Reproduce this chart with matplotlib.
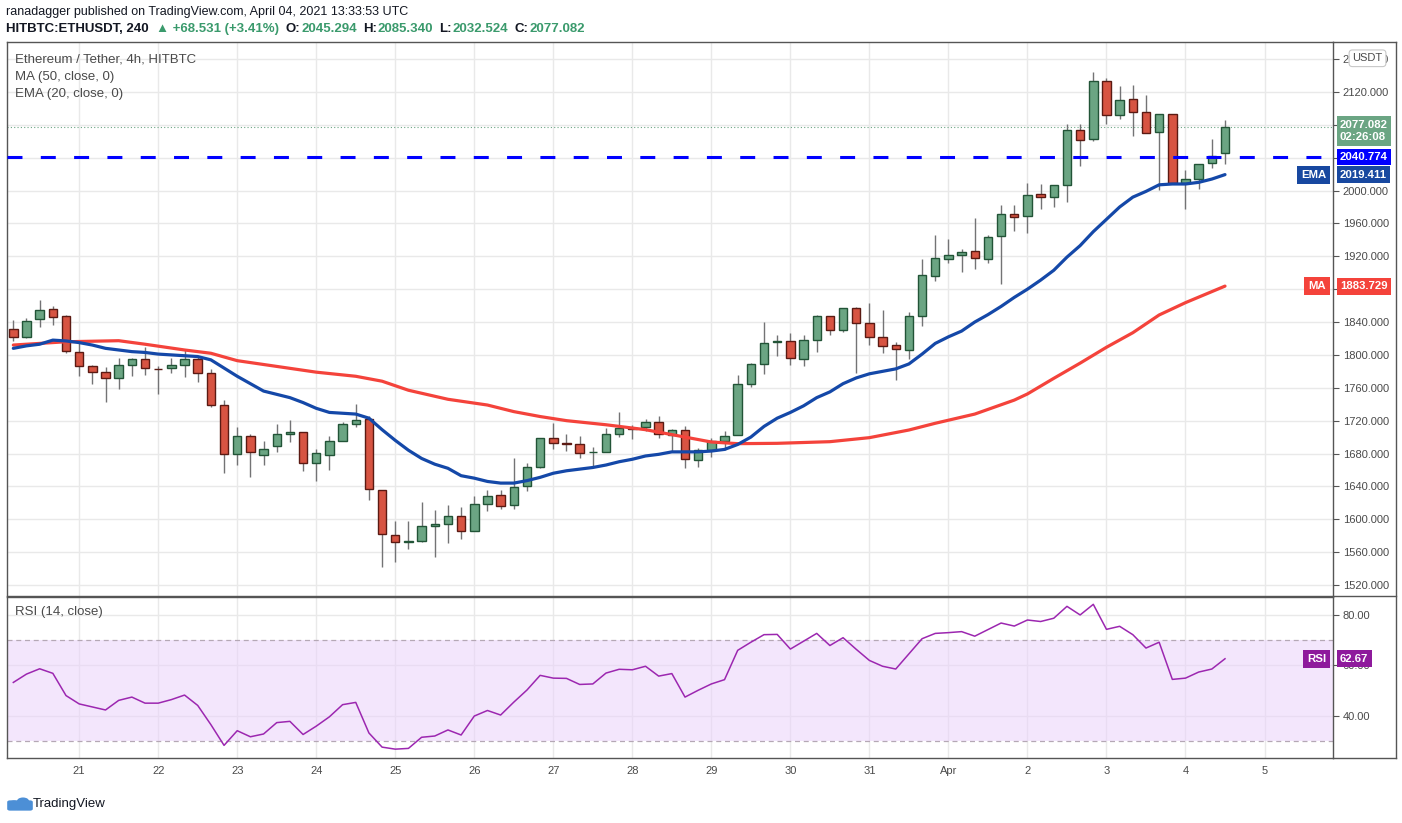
import matplotlib
matplotlib.use("Agg")
import matplotlib.pyplot as plt
import matplotlib.patches as mpatches
import matplotlib.transforms as mtrans
import numpy as np

plt.rcParams['font.family'] = ['Liberation Sans', 'DejaVu Sans']

# ---- data: ETHUSDT 4h candles, Mar 20 04:00 -> Apr 4 12:00 ----
opens = [1831, 1821.4, 1843.3, 1855.5, 1847, 1803.1, 1786.1, 1778.8, 1771.5, 1787.3,
         1794.6, 1783.3, 1783.7, 1787.3, 1794.6, 1777.6, 1738.6, 1679.4, 1700.9, 1677.8,
         1688.7, 1703.3, 1705.8, 1668.1, 1677.8, 1694.8, 1715.5, 1721.6, 1635.2, 1580.4,
         1571.9, 1573.1, 1591.4, 1593.8, 1603.5, 1585.3, 1618.1, 1629.1, 1616.9, 1640,
         1663.2, 1698.5, 1692.4, 1691.2, 1681.4, 1681.4, 1703.3, 1710.6, 1711.9, 1717.9,
         1702.1, 1708.2, 1671.7, 1683.9, 1694.8, 1702.1, 1764.2, 1788.5, 1815.3, 1816.5,
         1794.6, 1817.7, 1847, 1829.9, 1856.7, 1838.4, 1821.4, 1811.7, 1805.6, 1847.8,
         1896.5, 1917.2, 1922.1, 1926.1, 1917.2, 1944.4, 1971.1, 1968.7, 1995.5, 1991.8,
         2006.4, 2073.3, 2062.3, 2132.9, 2091.6, 2111, 2095.2, 2070.9, 2092.8, 2008.8,
         2013.7, 2033.1, 2045.294]
highs = [1842.5, 1844.9, 1866.8, 1859.5, 1848.2, 1816.1, 1787.7, 1784.9, 1796.2, 1796.2,
         1809.2, 1786.1, 1796.2, 1806, 1797.9, 1782.9, 1745.1, 1712.5, 1703.7, 1695.2,
         1715.9, 1720.8, 1706.5, 1685.1, 1701.3, 1718.4, 1740.3, 1725.7, 1635.2, 1597.5,
         1597.5, 1620.6, 1611.3, 1617, 1614.5, 1628.1, 1635.4, 1635.2, 1674.1, 1668.1,
         1698.5, 1717.5, 1703.3, 1700.9, 1687.5, 1710.6, 1730.1, 1714.3, 1721.6, 1725.3,
         1709.4, 1713.5, 1686.3, 1698.5, 1707.2, 1775.1, 1789.7, 1840.1, 1823.8, 1826.3,
         1823.8, 1848.2, 1847.5, 1856.7, 1858.3, 1863.2, 1854.3, 1815.3, 1851.8, 1916.8,
         1946, 1941.1, 1928.5, 1966.7, 1946, 1982.5, 1982.5, 2009.3, 2007.7, 2006.4,
         2080.6, 2080.6, 2143.9, 2136.6, 2126.8, 2128.1, 2115.9, 2092.8, 2092.8, 2024.6,
         2031.9, 2062.3, 2085.34]
lows = [1817.3, 1820, 1834.4, 1836.8, 1801.9, 1774.7, 1765, 1743.1, 1758.5, 1774.7,
        1775.9, 1752.8, 1778.4, 1773.5, 1767.4, 1737, 1655.9, 1666.6, 1651.8, 1666.4,
        1681.4, 1693.6, 1658.3, 1647, 1660.3, 1694.8, 1712.7, 1623.8, 1542.3, 1548.4,
        1564.2, 1571.9, 1554.5, 1570.5, 1576.4, 1585.3, 1609.5, 1612.1, 1612.1, 1634,
        1662, 1685.5, 1683.5, 1675, 1665.2, 1681.4, 1699.7, 1698.1, 1707, 1698.5,
        1681.8, 1662, 1663.2, 1675.4, 1684.3, 1702.1, 1760.5, 1776.4, 1798.3, 1787.3,
        1786.1, 1803.1, 1823.8, 1827.5, 1778.4, 1811.7, 1801.9, 1769.9, 1794.6, 1835.6,
        1890.4, 1912.3, 1901.4, 1905, 1912.3, 1886.8, 1951.3, 1948.8, 1978, 1979.7,
        1985.7, 2030.3, 2059.9, 2080.6, 2086.7, 2066, 2069.6, 2000.3, 2007.6, 1977.1,
        2001.5, 2027, 2032.524]
closes = [1822.2, 1840.9, 1854.3, 1845.7, 1804.4, 1786.1, 1778.8, 1771.5, 1787.3, 1794.6,
          1783.7, 1782.4, 1787.3, 1794.6, 1777.6, 1738.6, 1679.4, 1700.9, 1681.4, 1685.1,
          1703.3, 1705.8, 1668.1, 1680.2, 1694.8, 1715.5, 1720.4, 1636.4, 1581.6, 1571.9,
          1573.1, 1591.4, 1593.8, 1603.5, 1585.3, 1618.1, 1627.9, 1615.7, 1638.8, 1663.2,
          1698.5, 1692.4, 1691.2, 1680.2, 1681.8, 1703.3, 1710.6, 1709.8, 1717.9, 1703.3,
          1708.2, 1672.9, 1683.9, 1694.8, 1700.9, 1764.2, 1788.5, 1814.1, 1816.5, 1795.8,
          1817.7, 1847, 1829.9, 1856.7, 1838.4, 1821.4, 1810.4, 1806.8, 1847.4, 1896.9,
          1918, 1921.2, 1924.9, 1918.4, 1943.1, 1971.1, 1967.5, 1994.3, 1991.8, 2006.4,
          2073.3, 2061.1, 2132.9, 2091.6, 2109.8, 2095.2, 2069.6, 2092.8, 2008.8, 2013.7,
          2031.9, 2041.7, 2077.082]

ema20 = [1808, 1811, 1813, 1818, 1817, 1815, 1812, 1808, 1806, 1804,
         1803, 1801, 1800, 1799, 1798, 1794, 1784, 1774, 1765, 1756,
         1752, 1748, 1742, 1735, 1730, 1729, 1728, 1723, 1709, 1696,
         1684, 1674, 1667, 1662, 1653, 1650, 1646, 1644, 1644, 1647,
         1651, 1656, 1659, 1661, 1663, 1666, 1670, 1673, 1677, 1679,
         1682, 1682, 1682, 1683, 1685, 1691, 1700, 1713, 1723, 1730,
         1738, 1748, 1755, 1765, 1772, 1777, 1780, 1783, 1789, 1801,
         1814, 1822, 1829, 1840, 1849, 1859, 1870, 1880, 1891, 1903,
         1919, 1933, 1950, 1965, 1980, 1992, 1999, 2007, 2008, 2008,
         2010, 2014, 2019.411]

# MA50 read at a subset of candles
ma_idx = [0, 4, 8, 10, 13, 15, 17, 20, 23, 26, 28, 30, 33, 36, 38, 40, 42, 45, 48, 50,
          53, 55, 58, 62, 65, 68, 70, 73, 76, 77, 79, 81, 83, 85, 87, 89, 92]
ma_val = [1812, 1816, 1817.3, 1813, 1806, 1802, 1793, 1786, 1779, 1774, 1768, 1757, 1746,
          1739, 1731, 1725, 1720, 1715, 1709, 1703, 1694, 1692, 1692.4, 1694.4, 1699.3,
          1708.6, 1716.8, 1728, 1745, 1752.5, 1771.5, 1790, 1809.3, 1827, 1848.6, 1863.6,
          1883.729]

rsi = [53.3, 56.6, 58.7, 56.9, 48.1, 44.8, 43.6, 42.4, 46.2, 47.5,
       45.1, 45.1, 46.5, 48.3, 44.2, 36.6, 28.4, 34.2, 31.8, 32.9,
       37.4, 37.9, 32.7, 36.0, 39.7, 44.5, 45.4, 33.3, 27.7, 26.9,
       27.2, 31.6, 32.1, 34.5, 32.5, 40.0, 42.2, 40.4, 45.5, 50.3,
       56.1, 55.0, 54.9, 52.5, 52.7, 57.0, 58.5, 58.3, 59.7, 55.8,
       56.8, 47.5, 50.2, 52.7, 54.4, 66.0, 69.2, 72.2, 72.3, 66.5,
       69.6, 72.7, 67.9, 71.0, 66.4, 62.0, 59.7, 58.6, 64.6, 70.6,
       72.7, 73.0, 73.4, 71.6, 74.2, 76.8, 75.6, 78.0, 77.4, 78.7,
       83.4, 80.0, 84.2, 74.3, 75.5, 72.2, 66.9, 69.2, 54.5, 55.0,
       57.4, 58.6, 62.67]

day_labels = ["21", "22", "23", "24", "25", "26", "27", "28", "29", "30", "31",
              "Apr", "2", "3", "4", "5"]
day_start = 5          # first candle of Mar 21 00:00
level_line = 2040.774
price_ticks = list(range(1520, 2200, 40))
hidden_ticks = [1880, 2040, 2080]   # sit under the value boxes

# ---- colours ----
UP_FILL, UP_EDGE = "#6ba583", "#225437"
DN_FILL, DN_EDGE = "#d75442", "#5b1a13"
WICK = "#737375"
EMA_C, MA_C = "#1448a8", "#f4433b"
RSI_C = "#9c27b0"
GRID = "#e9e9e9"
TXT = "#4a4a4a"

W, H = 1402, 823
fig = plt.figure(figsize=(W / 100, H / 100), dpi=100)
left, right = 7 / W, 1333 / W
ax = fig.add_axes([left, 1 - 596 / H, right - left, 554 / H])
ax_r = fig.add_axes([left, 1 - 758 / H, right - left, 161 / H], sharex=ax)

o, h, l, c = map(np.array, (opens, highs, lows, closes))
x = np.arange(len(c))
up = c >= o
bot = np.minimum(o, c)
hgt = np.maximum(np.abs(c - o), 1.0)

# ---- price pane ----
ax.set_xlim(-0.48, 100.2)
ax.set_ylim(1506.6, 2180.8)
for yv in price_ticks:
    ax.axhline(yv, color=GRID, lw=1, zorder=0)
for k in range(len(day_labels)):
    ax.axvline(day_start + 6 * k, color=GRID, lw=1, zorder=0)
    ax_r.axvline(day_start + 6 * k, color=GRID, lw=1, zorder=0)

ax.vlines(x, l, h, color=WICK, lw=1, zorder=2)
ax.bar(x[up], hgt[up], bottom=bot[up], width=0.64, color=UP_FILL,
       edgecolor=UP_EDGE, lw=1, zorder=3)
ax.bar(x[~up], hgt[~up], bottom=bot[~up], width=0.64, color=DN_FILL,
       edgecolor=DN_EDGE, lw=1, zorder=3)

ax.plot(ma_idx, ma_val, color=MA_C, lw=2.3, zorder=4, solid_capstyle="round")
ax.plot(x, ema20, color=EMA_C, lw=2.3, zorder=4, solid_capstyle="round")

ax.axhline(level_line, color="#0000ff", lw=2.2, dashes=(4.9, 6.0), zorder=5)
ax.axhline(closes[-1], color=UP_FILL, lw=0.8, ls=(0, (1, 2)), zorder=1)

ax.yaxis.tick_right()
ax.set_yticks(price_ticks)
ax.set_yticklabels(["" if t in hidden_ticks else f"{t:.3f}" for t in price_ticks])
ax.tick_params(axis="y", length=4, width=0.8, color="#555", labelsize=8, labelcolor=TXT, pad=3)
ax.tick_params(axis="x", length=0, labelbottom=False)
for s in ax.spines.values():
    s.set_color("#555")
    s.set_linewidth(1)

for k, s in enumerate(["Ethereum / Tether, 4h, HITBTC", "MA (50, close, 0)", "EMA (20, close, 0)"]):
    ax.text(8 / 1326, 1 - (18 + 17 * k) / 554, s, transform=ax.transAxes,
            fontsize=9.5, color=TXT, va="center")

# right-axis value boxes
tr = mtrans.blended_transform_factory(ax.transAxes, ax.transData)

def value_box(axis, trans, y, text, fc, dy=0, va="center"):
    axis.annotate(text, xy=(1, y), xycoords=trans, xytext=(5, dy), textcoords="offset points",
                  ha="left", va=va, fontsize=8.2, color="white", fontweight="bold",
                  annotation_clip=False, zorder=10, linespacing=1.35,
                  bbox=dict(boxstyle="square,pad=0.3", fc=fc, ec="none"))

def tag_box(axis, trans, y, text, fc):
    axis.annotate(text, xy=(1, y), xycoords=trans, xytext=(-5, 0), textcoords="offset points",
                  ha="right", va="center", fontsize=8.2, color="white", fontweight="bold",
                  annotation_clip=False, zorder=10,
                  bbox=dict(boxstyle="square,pad=0.35", fc=fc, ec="none"))

value_box(ax, tr, closes[-1], "2077.082\n02:26:08", UP_FILL, dy=5.5, va="top")
value_box(ax, tr, level_line, "2040.774", "#0000ff")
value_box(ax, tr, ema20[-1], "2019.411", "#1848a0")
tag_box(ax, tr, ema20[-1], "EMA", "#1848a0")
value_box(ax, tr, ma_val[-1], "1883.729", MA_C)
tag_box(ax, tr, ma_val[-1], "MA", MA_C)
ax.annotate("USDT", xy=(1, 2161), xycoords=tr, xytext=(14, 0), textcoords="offset points",
            ha="left", va="center", fontsize=8, color=TXT, annotation_clip=False, zorder=10,
            bbox=dict(boxstyle="round,pad=0.3", fc="white", ec="#c8c8c8", lw=0.8))

# ---- RSI pane ----
ax_r.set_ylim(23.4, 87.1)
for yv in (40, 60, 80):
    ax_r.axhline(yv, color=GRID, lw=1, zorder=0)
ax_r.axhspan(30, 70, color="#ead2fb", alpha=0.55, lw=0, zorder=1)
ax_r.axhline(70, color="#b5a8b5", lw=0.9, dashes=(4, 3), zorder=2)
ax_r.axhline(30, color="#b5a8b5", lw=0.9, dashes=(4, 3), zorder=2)
ax_r.plot(x, rsi, color=RSI_C, lw=1.1, zorder=3)

ax_r.yaxis.tick_right()
ax_r.set_yticks([40, 60, 80])
ax_r.yaxis.set_major_formatter(matplotlib.ticker.FormatStrFormatter("%.2f"))
ax_r.tick_params(axis="y", length=4, width=0.8, color="#555", labelsize=8, labelcolor=TXT, pad=3)
ax_r.set_xticks([day_start + 6 * k for k in range(len(day_labels))])
ax_r.set_xticklabels(day_labels)
ax_r.tick_params(axis="x", length=0, labelsize=8, labelcolor=TXT, pad=6)
for s in ax_r.spines.values():
    s.set_color("#555")
    s.set_linewidth(1)
ax_r.text(8 / 1326, 1 - 15 / 161, "RSI (14, close)", transform=ax_r.transAxes,
          fontsize=9.5, color=TXT, va="center")

tr_r = mtrans.blended_transform_factory(ax_r.transAxes, ax_r.transData)
value_box(ax_r, tr_r, rsi[-1], "62.67", "#8e1a9c")
tag_box(ax_r, tr_r, rsi[-1], "RSI", "#8e1a9c")

# outer frame on the far right
fig.add_artist(plt.Line2D([1396 / W, 1396 / W], [1 - 42 / H, 1 - 758 / H], color="#555", lw=1))
for yy in (42, 596, 758):
    fig.add_artist(plt.Line2D([1333 / W, 1396 / W], [1 - yy / H, 1 - yy / H], color="#555", lw=1))

# ---- header ----
fig.text(6 / W, 1 - 12 / H, "ranadagger published on TradingView.com, April 04, 2021 13:33:53 UTC",
         fontsize=9, color="#131722", va="center")
hdr = fig.text(6 / W, 1 - 29 / H, "HITBTC:ETHUSDT, 240", fontsize=9.5, color="#131722",
               va="center", fontweight="bold")
GREEN_T = "#3a9a6c"
pieces = [("▲ +68.531 (+3.41%)", GREEN_T, 5), ("O:", "#131722", 5), ("2045.294", GREEN_T, 1),
          ("H:", "#131722", 4), ("2085.340", GREEN_T, 1), ("L:", "#131722", 4),
          ("2032.524", GREEN_T, 1), ("C:", "#131722", 4), ("2077.082", GREEN_T, 1)]
prev = hdr
for s, col, gap in pieces:
    prev = ax.annotate(s, xy=(1, 0), xycoords=prev, xytext=(gap, 0), textcoords="offset points",
                       ha="left", va="bottom", fontsize=9.5, color=col, fontweight="bold",
                       annotation_clip=False)

# ---- TradingView logo ----
for cx, cy, r in ((14, 803, 4.5), (23, 801, 6)):
    fig.add_artist(mpatches.Circle((cx / W, 1 - cy / H), r / W, transform=fig.transFigure,
                                   fc="#4c8fd6", ec="none"))
fig.add_artist(mpatches.FancyBboxPatch((10 / W, 1 - 809 / H), 20 / W, 7 / H,
                                       boxstyle="round,pad=0.002", transform=fig.transFigure,
                                       fc="#4c8fd6", ec="none"))
fig.text(33 / W, 1 - 804 / H, "TradingView", fontsize=9.5, color="#131722", va="center")

fig.savefig("out.png", dpi=100, facecolor="white")
